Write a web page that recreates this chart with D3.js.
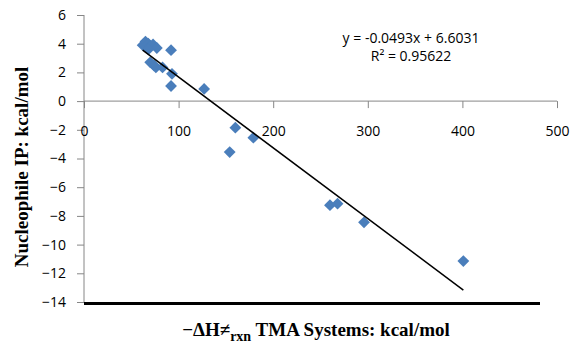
<!DOCTYPE html>
<html><head><meta charset="utf-8">
<script src="https://cdn.jsdelivr.net/npm/d3@7"></script>
<style>body{margin:0;background:#fff}svg{display:block}</style>
</head><body>
<svg id="c" width="574" height="345"></svg>
<script>
const xValues = [62, 65, 68, 70, 73, 77, 68, 70, 74, 76, 83, 92, 93, 92, 127, 160, 154, 179, 260, 268, 296, 401];
const yValues = [3.9, 4.15, 4.0, 3.85, 3.95, 3.7, 3.6, 2.7, 2.5, 2.35, 2.35, 3.55, 1.9, 1.05, 0.85, -1.85, -3.55, -2.55, -7.25, -7.15, -8.45, -11.15];
const xTicks = [0, 100, 200, 300, 400, 500];
const yTicks = [6, 4, 2, 0, -2, -4, -6, -8, -10, -12, -14];
const slope = -0.0493, intercept = 6.6031;
const eqLabel = "y = -0.0493x + 6.6031";
const r2Label = "R² = 0.95622";

const svg = d3.select("#c");
const x = d3.scaleLinear().domain([0, 500]).range([84, 557]);
const y = d3.scaleLinear().domain([-14, 6]).range([302, 15]);
const sans = "'Open Sans', 'Liberation Sans', sans-serif";
const grey = "#868686";

// y axis
const yAxis = svg.append("g").attr("transform", `translate(${x(0)},0)`)
  .call(d3.axisLeft(y).tickValues(yTicks).tickSize(7).tickPadding(11).tickFormat(d3.format("d")));
yAxis.select(".domain").attr("stroke", grey).attr("d", `M-0,${y(6)}V${y(-14)}`);
yAxis.selectAll(".tick line").attr("stroke", grey);
yAxis.selectAll("text").attr("font-family", sans).attr("font-size", 14).attr("fill", "#000");

// x axis at y=0
const xAxis = svg.append("g").attr("transform", `translate(0,${y(0)})`)
  .call(d3.axisBottom(x).tickValues(xTicks).tickSize(7).tickPadding(0).tickFormat(d3.format("d")));
xAxis.select(".domain").attr("stroke", grey).attr("d", `M${x(0)},0H${x(500)}`);
xAxis.selectAll(".tick line").attr("stroke", grey);
xAxis.selectAll("text").attr("font-family", sans).attr("font-size", 14).attr("fill", "#000")
  .attr("dy", null).attr("y", 35);

// thick bottom line
svg.append("line").attr("x1", x(0)).attr("x2", 540).attr("y1", y(-14) + 1.5).attr("y2", y(-14) + 1.5)
  .attr("stroke", "#000").attr("stroke-width", 3);

// points
const data = xValues.map((v, i) => ({x: v, y: yValues[i]}));
svg.append("g").selectAll("path").data(data).join("path")
  .attr("d", d3.symbol().type(d3.symbolSquare).size(70))
  .attr("transform", d => `translate(${x(d.x)},${y(d.y)}) rotate(45)`)
  .attr("fill", "#4a7ebb");

// trendline
const xmin = d3.min(xValues), xmax = d3.max(xValues);
svg.append("line")
  .attr("x1", x(xmin)).attr("y1", y(slope * xmin + intercept))
  .attr("x2", x(xmax)).attr("y2", y(slope * xmax + intercept))
  .attr("stroke", "#000").attr("stroke-width", 1.5);

// equation
svg.append("text").attr("x", 411).attr("y", 43).attr("text-anchor", "middle")
  .attr("font-family", sans).attr("font-size", 14).text(eqLabel);
svg.append("text").attr("x", 411).attr("y", 61).attr("text-anchor", "middle")
  .attr("font-family", sans).attr("font-size", 14).text(r2Label);

// axis titles
const serif = "'Liberation Serif', 'DejaVu Serif', serif";
svg.append("text").attr("transform", "translate(28,167) rotate(-90)").attr("text-anchor", "middle")
  .attr("font-family", serif).attr("font-weight", "bold").attr("font-size", 19)
  .text("Nucleophile IP: kcal/mol");
const t = svg.append("text").attr("x", 316).attr("y", 336).attr("text-anchor", "middle")
  .attr("font-family", serif).attr("font-weight", "bold").attr("font-size", 19);
t.append("tspan").text("−ΔH≠");
t.append("tspan").attr("font-size", 14).attr("dy", 5).text("rxn");
t.append("tspan").attr("dy", -5).text(" TMA Systems: kcal/mol");
</script>
</body></html>
